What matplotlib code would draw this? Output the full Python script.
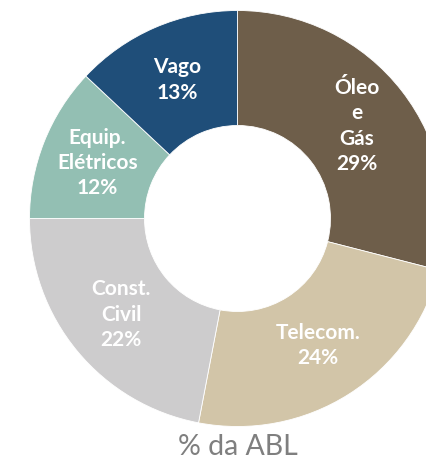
import numpy as np
import matplotlib
matplotlib.use("Agg")
import matplotlib.pyplot as plt

categories = ["Óleo\ne\nGás", "Telecom.", "Const.\nCivil", "Equip.\nElétricos", "Vago"]
values = [29, 24, 22, 12, 13]
colors = ["#6e5e4a", "#d2c5a8", "#cdcccd", "#93bfb3", "#1f4e79"]
title = "% da ABL"

W, H = 426, 461
fig = plt.figure(figsize=(W / 100, H / 100), dpi=100)
ax = fig.add_axes([0, 0, 1, 1])

cx, cy = 237.5, H - 218.5
R = 208
r_in = 93

wedges, _ = ax.pie(values, colors=colors, startangle=90, counterclock=False,
                   radius=R, center=(cx, cy),
                   wedgeprops=dict(width=R - r_in, edgecolor="white", linewidth=0.6))
ax.set_xlim(0, W)
ax.set_ylim(0, H)
ax.set_aspect("equal")
ax.axis("off")

for w, lab, v in zip(wedges, categories, values):
    ang = np.deg2rad((w.theta1 + w.theta2) / 2)
    x = cx + 0.725 * R * np.cos(ang)
    y = cy + 0.725 * R * np.sin(ang)
    ax.text(x, y, f"{lab}\n{v}%", ha="center", va="center", color="white",
            fontsize=15, fontweight="bold", family="Lato", linespacing=1.33)

ax.text(cx, H - 447, title, ha="center", va="center", color="#7f7f7f",
        fontsize=20.5, family="Lato")

fig.savefig("out.png", dpi=100)
